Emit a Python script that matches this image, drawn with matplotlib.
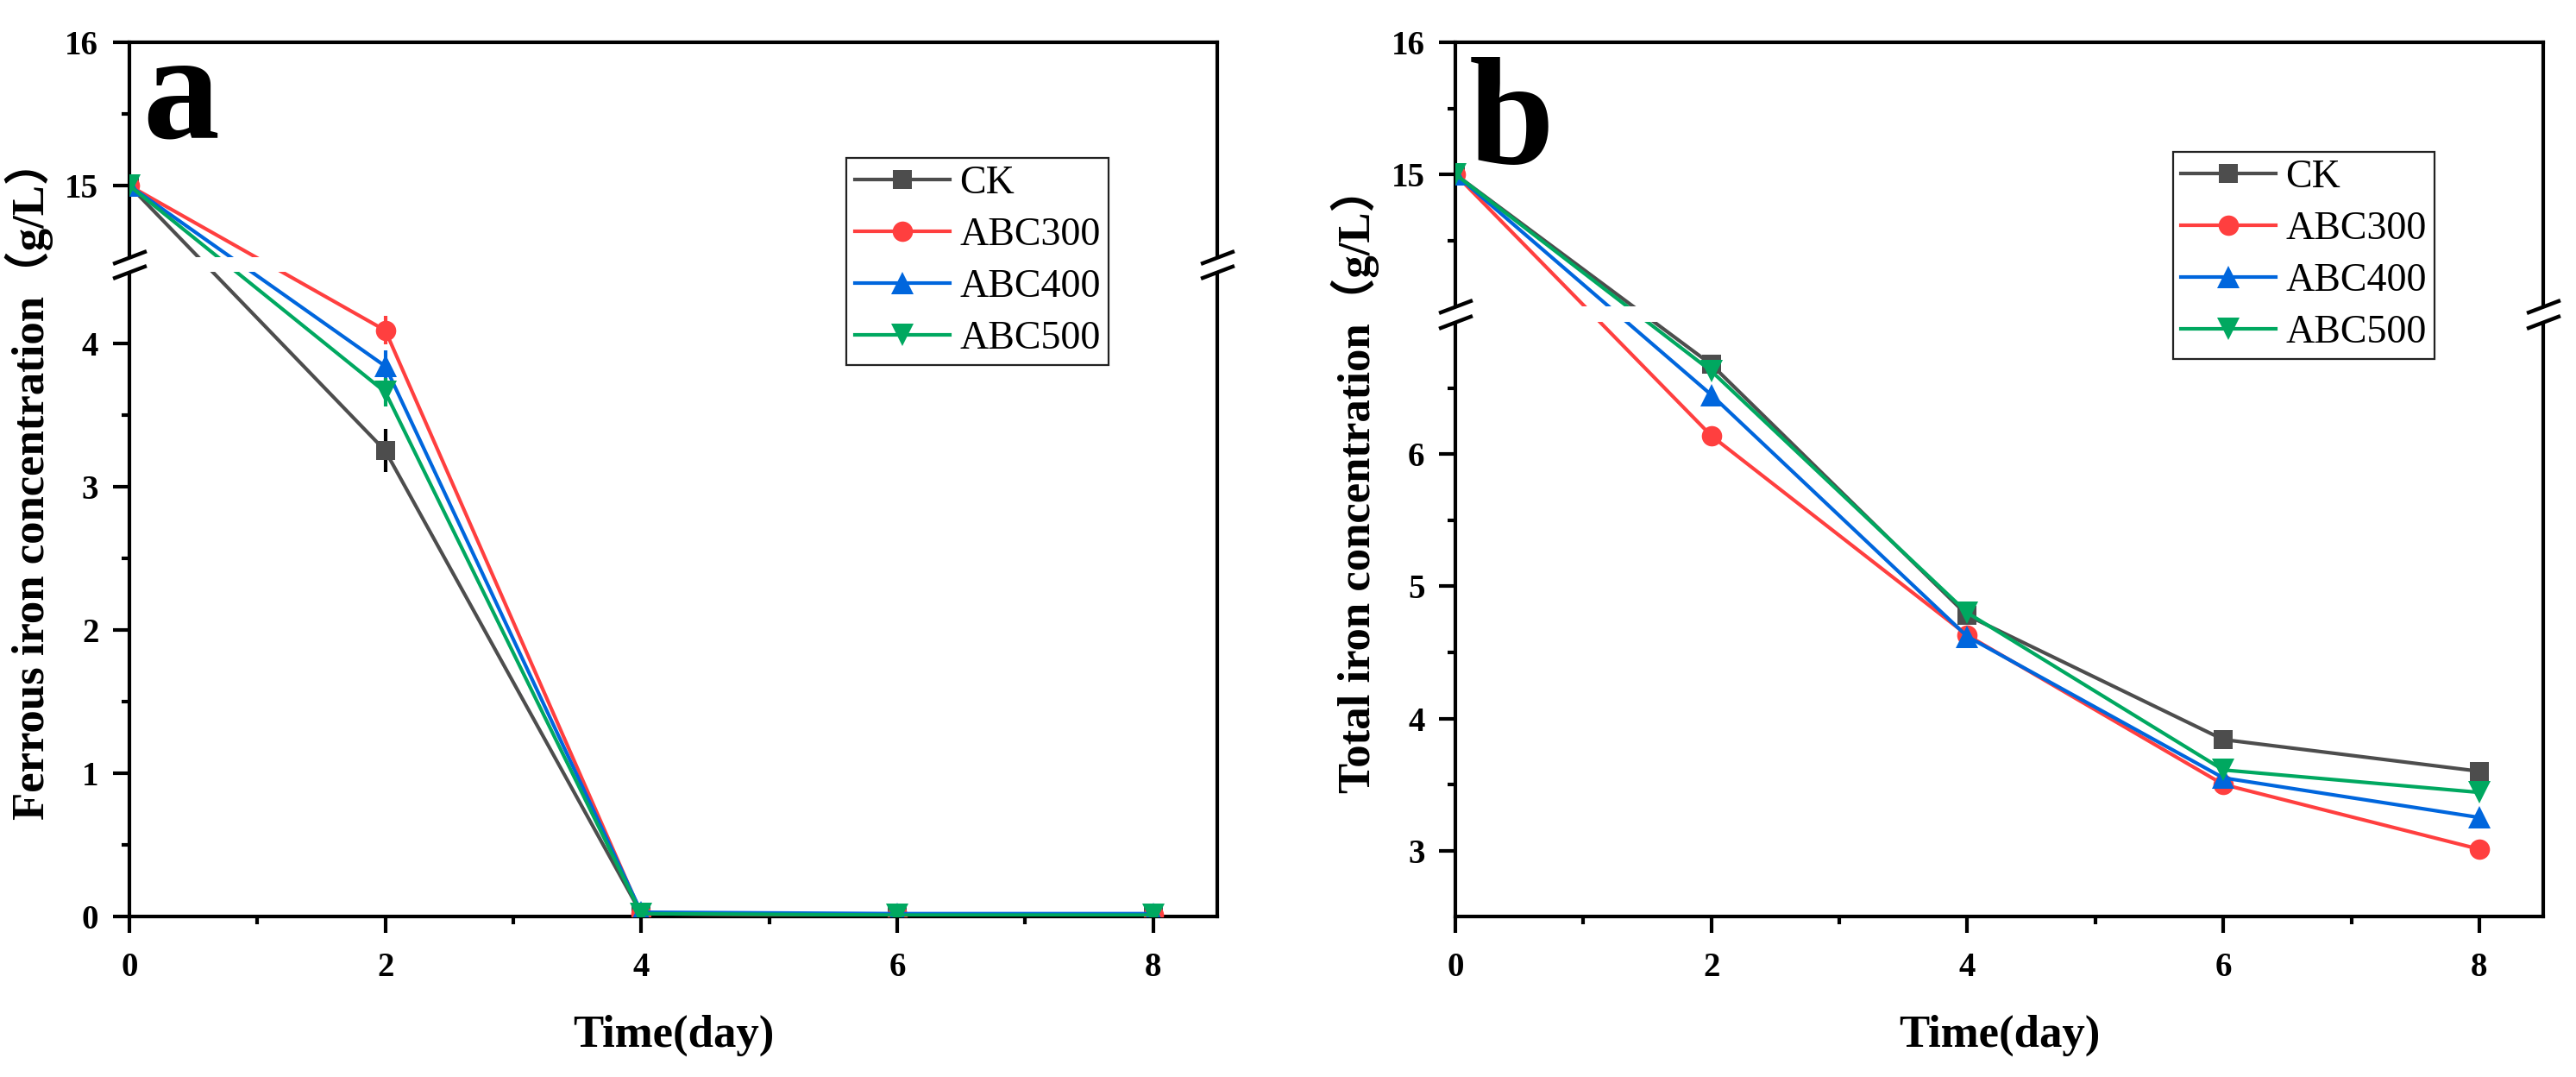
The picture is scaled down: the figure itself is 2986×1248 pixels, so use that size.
import numpy as np
import matplotlib
matplotlib.use("Agg")
import matplotlib.pyplot as plt
from matplotlib.ticker import FixedLocator, FuncFormatter, NullFormatter
from matplotlib.patches import Rectangle

plt.rcParams['font.family'] = ['Liberation Serif', 'Noto Sans CJK SC', 'DejaVu Sans']

# data
days = [0, 2, 4, 6, 8]
groups = ['CK', 'ABC300', 'ABC400', 'ABC500']

ferrous = {
    'CK':     [15.0, 3.25, 0.02, 0.01, 0.01],
    'ABC300': [15.0, 4.09, 0.02, 0.01, 0.01],
    'ABC400': [15.0, 3.84, 0.03, 0.02, 0.02],
    'ABC500': [15.0, 3.66, 0.02, 0.01, 0.01],
}
ferrous_err = {
    'CK':     [0.02, 0.15, 0.01, 0.01, 0.01],
    'ABC300': [0.02, 0.10, 0.02, 0.02, 0.02],
    'ABC400': [0.02, 0.11, 0.03, 0.03, 0.03],
    'ABC500': [0.02, 0.10, 0.02, 0.02, 0.02],
}
total = {
    'CK':     [15.0, 6.68, 4.78, 3.84, 3.60],
    'ABC300': [15.0, 6.14, 4.63, 3.50, 3.01],
    'ABC400': [15.0, 6.45, 4.62, 3.55, 3.25],
    'ABC500': [15.0, 6.63, 4.80, 3.61, 3.44],
}
total_err = {
    'CK':     [0.03, 0.05, 0.06, 0.05, 0.05],
    'ABC300': [0.03, 0.03, 0.05, 0.05, 0.04],
    'ABC400': [0.03, 0.04, 0.04, 0.05, 0.05],
    'ABC500': [0.03, 0.04, 0.07, 0.04, 0.05],
}

colors = {'CK': '#4D4D4D', 'ABC300': '#FF3F3F', 'ABC400': '#0066DD', 'ABC500': '#00A860'}
ecolors = {'CK': '#000000', 'ABC300': '#FF3F3F', 'ABC400': '#0066DD', 'ABC500': '#00A860'}
markers = {'CK': 's', 'ABC300': 'o', 'ABC400': '^', 'ABC500': 'v'}
msizes = {'CK': 8, 'ABC300': 8.5, 'ABC400': 9.5, 'ABC500': 9.5}


def break_scale(b0, b1, g):
    # piecewise linear axis: [.., b0] and [b1, ..] with a small gap g between
    def fwd(y):
        y = np.asarray(y, dtype=float)
        return np.where(y <= b0, y, np.where(y >= b1, y - (b1 - b0) + g,
                                             b0 + (y - b0) * g / (b1 - b0)))

    def inv(t):
        t = np.asarray(t, dtype=float)
        return np.where(t <= b0, t, np.where(t >= b0 + g, t + (b1 - b0) - g,
                                             b0 + (t - b0) * (b1 - b0) / g))
    return fwd, inv


def panel(ax, data, err, lims, gap, major, minor, ylabel, letter, letter_y, leg_top):
    b0, b1 = lims[1], lims[2]
    ax.set_yscale('function', functions=break_scale(b0, b1, gap))
    ax.set_ylim(lims[0], lims[3])
    ax.set_xlim(0, 8.5)

    handles = []
    for g in groups:
        c = ax.errorbar(days, data[g], yerr=err[g], color=colors[g], ecolor=ecolors[g],
                        marker=markers[g], markersize=msizes[g], markeredgewidth=0,
                        linewidth=1.5, elinewidth=1.5, capsize=4.5, capthick=1.5,
                        label=g, zorder=3)
        handles.append(c.lines[0])

    # white band hiding the break region
    ax.add_patch(Rectangle((-0.03, b0), 1.06, b1 - b0, transform=ax.get_yaxis_transform(),
                           facecolor='white', edgecolor='none', zorder=6, clip_on=False))
    kw = dict(marker=[(-1, -0.38), (1, 0.38)], markersize=14, linestyle='none',
              color='k', mec='k', mew=1.6, clip_on=False, zorder=7,
              transform=ax.get_yaxis_transform())
    ax.plot([0, 0, 1, 1], [b0, b1, b0, b1], **kw)

    ax.yaxis.set_major_locator(FixedLocator(major))
    ax.yaxis.set_minor_locator(FixedLocator(minor))
    ax.yaxis.set_major_formatter(FuncFormatter(lambda v, p: '%d' % round(v)))
    ax.yaxis.set_minor_formatter(NullFormatter())
    ax.xaxis.set_major_locator(FixedLocator([0, 2, 4, 6, 8]))
    ax.xaxis.set_minor_locator(FixedLocator([1, 3, 5, 7]))

    ax.tick_params(which='both', direction='out', width=1.5, top=False, right=False)
    ax.tick_params(which='major', length=6.8, labelsize=14, pad=6)
    ax.tick_params(axis='x', which='major', pad=8)
    ax.tick_params(which='minor', length=3.4)
    for lab in ax.get_xticklabels() + ax.get_yticklabels():
        lab.set_fontweight('bold')
    for sp in ax.spines.values():
        sp.set_linewidth(1.5)

    ax.set_xlabel('Time(day)', fontsize=19, fontweight='bold')
    ax.xaxis.set_label_coords(0.5, -0.112)
    ax.set_ylabel(ylabel, fontsize=19, fontweight='bold')
    ax.yaxis.set_label_coords(-0.07, 0.5)

    ax.text(0.012, letter_y, letter, transform=ax.transAxes, fontsize=64,
            fontweight='bold', va='baseline', ha='left', zorder=8)

    leg = ax.legend(handles, groups, loc='upper right', bbox_to_anchor=(0.90, leg_top),
                    fontsize=16.5, frameon=True, fancybox=False, edgecolor='#222222',
                    framealpha=1, handlelength=2.4, handletextpad=0.25, labelspacing=0.38,
                    borderpad=0.2, borderaxespad=0)
    leg.get_frame().set_linewidth(0.8)
    leg.set_zorder(9)


fig = plt.figure(figsize=(14.93, 6.24), dpi=200)
ax1 = fig.add_axes([0.0502, 0.149, 0.4223, 0.8117])
ax2 = fig.add_axes([0.5650, 0.149, 0.4223, 0.8117])

panel(ax1, ferrous, ferrous_err, (0, 4.5, 14.5, 16), 0.1,
      [0, 1, 2, 3, 4, 15, 16], [0.5, 1.5, 2.5, 3.5, 15.5],
      'Ferrous iron concentration（g/L）', 'a', 0.891, 0.868)
panel(ax2, total, total_err, (2.5, 7, 14, 16), 0.12,
      [3, 4, 5, 6, 15, 16], [3.5, 4.5, 5.5, 6.5, 14.5, 15.5],
      'Total iron concentration（g/L）', 'b', 0.861, 0.875)

fig.savefig('out.png', dpi=200)
